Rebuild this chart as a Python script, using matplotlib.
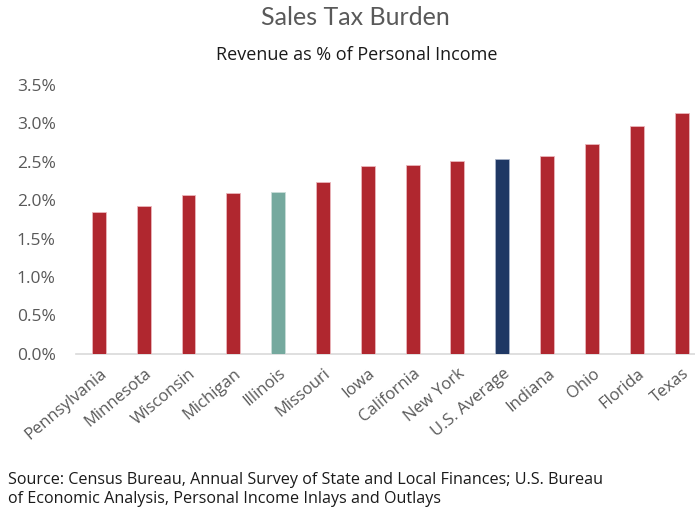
import numpy as np
import matplotlib.pyplot as plt
from matplotlib.transforms import ScaledTranslation

states = ["Pennsylvania", "Minnesota", "Wisconsin", "Michigan", "Illinois", "Missouri",
          "Iowa", "California", "New York", "U.S. Average", "Indiana", "Ohio",
          "Florida", "Texas"]
burden = [1.85, 1.93, 2.07, 2.09, 2.10, 2.23, 2.44, 2.46, 2.51, 2.53, 2.58, 2.73, 2.97, 3.13]

RED = "#B0272F"
TEAL = "#75A99E"
NAVY = "#1F3864"
colors = [TEAL if s == "Illinois" else NAVY if s == "U.S. Average" else RED for s in states]
edges = ["#C9DDD8" if s == "Illinois" else "#A9B4C8" if s == "U.S. Average" else "#EBB7BC" for s in states]

fig = plt.figure(figsize=(6.95, 5.14), dpi=100)
ax = fig.add_axes([0.110, 0.312, 0.89, 0.5226])

x = np.arange(len(states))
ax.bar(x, burden, width=0.31, color=colors, edgecolor=edges, linewidth=0.6, zorder=3)

ax.set_ylim(0, 3.5)
ax.set_xlim(-0.5, 13.3)
yt = np.arange(0, 3.51, 0.5)
ax.set_yticks(yt)
ax.set_yticklabels([f"{v:.1f}%" for v in yt], fontfamily="Open Sans", fontsize=12.5, color="#595959")
ax.tick_params(axis="y", length=0, pad=15)
ax.tick_params(axis="x", length=0, pad=13)
ax.set_xticks(x)
ax.set_xticklabels(states, rotation=40, ha="right", va="center", rotation_mode="anchor",
                   fontfamily="Open Sans", fontsize=12, color="#595959")
shift = ScaledTranslation(4 / 72, 0, fig.dpi_scale_trans)
for lbl in ax.get_xticklabels():
    lbl.set_transform(lbl.get_transform() + shift)

for s in ["top", "right", "left"]:
    ax.spines[s].set_visible(False)
ax.spines["bottom"].set_color("#D9D9D9")
ax.spines["bottom"].set_linewidth(1.2)

fig.text(0.511, 0.965, "Sales Tax Burden", ha="center", va="center",
         fontfamily="Lato", fontsize=18, color="#595959")
fig.text(0.514, 0.893, "Revenue as % of Personal Income", ha="center", va="center",
         fontfamily="Open Sans", fontsize=13, color="#1a1a1a")
fig.text(0.012, 0.047, "Source: Census Bureau, Annual Survey of State and Local Finances; U.S. Bureau\n"
         "of Economic Analysis, Personal Income Inlays and Outlays", ha="left", va="center",
         fontfamily="Open Sans", fontsize=11.6, color="#1a1a1a", linespacing=1.25)

fig.savefig("out.png", dpi=100)
